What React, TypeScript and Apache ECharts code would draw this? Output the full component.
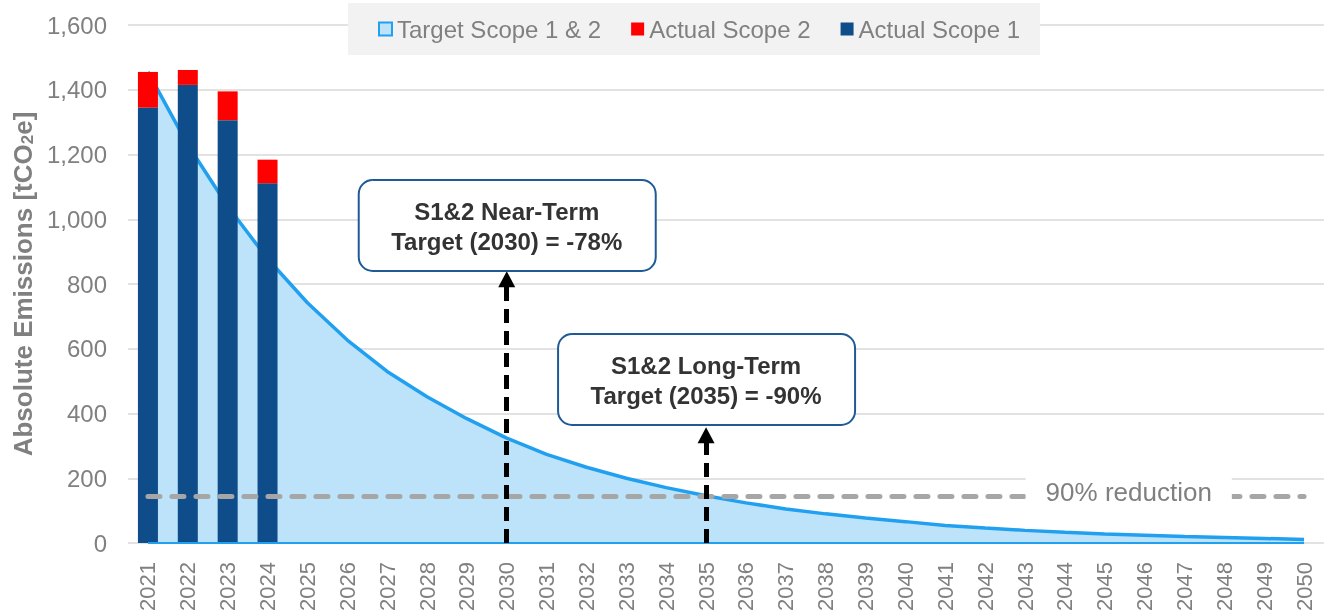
import React, { useEffect, useRef } from 'react';
import * as echarts from 'echarts';

const years = ['2021', '2022', '2023', '2024', '2025', '2026', '2027', '2028', '2029', '2030',
  '2031', '2032', '2033', '2034', '2035', '2036', '2037', '2038', '2039', '2040',
  '2041', '2042', '2043', '2044', '2045', '2046', '2047', '2048', '2049', '2050'];

const targetScope12 = [1455, 1230, 1040, 878, 742, 627, 530, 452, 384, 324,
  274, 234, 200, 171, 146, 124, 105, 90, 77, 66,
  54, 46, 39, 33, 28, 24, 20, 17, 14, 11];

const actualScope1 = [1345, 1415, 1306, 1111];
const actualScope2 = [110, 46, 89, 73];

const reductionLevel = 145.5;
const yTicks = { min: 0, max: 1600, interval: 200 };

const FONT = "'Liberation Sans', Arial, sans-serif";
const GRAY = '#808080';

export default function App() {
  const ref = useRef<HTMLDivElement>(null);
  useEffect(() => {
    const chart = echarts.init(ref.current!, null, { renderer: 'svg' });
    chart.setOption({
      animation: false,
      textStyle: { fontFamily: FONT },
      grid: { left: 128, right: 2, top: 25, bottom: 71, containLabel: false },
      legend: {
        left: 348,
        top: 3,
        backgroundColor: '#F2F2F2',
        padding: [14, 20, 14, 30],
        itemGap: 30,
        itemWidth: 13,
        itemHeight: 13,
        icon: 'rect',
        selectedMode: false,
        textStyle: { fontSize: 24, color: GRAY, fontFamily: FONT },
        data: [
          { name: 'Target Scope 1 & 2', itemStyle: { color: '#BDE3FB', borderColor: '#22A0F0', borderWidth: 2 } },
          { name: 'Actual Scope 2', itemStyle: { color: '#FF0000' } },
          { name: 'Actual Scope 1', itemStyle: { color: '#0F4C8A' } },
        ],
      },
      xAxis: {
        type: 'category',
        data: years,
        boundaryGap: true,
        axisLine: { show: false },
        axisTick: { show: false },
        axisLabel: { rotate: 90, interval: 0, fontSize: 22, color: GRAY, margin: 19, fontFamily: FONT },
      },
      yAxis: {
        type: 'value',
        min: yTicks.min,
        max: yTicks.max,
        interval: yTicks.interval,
        axisLine: { show: false },
        axisTick: { show: false },
        splitLine: { lineStyle: { color: '#D9D9D9', width: 1.5 } },
        axisLabel: {
          fontSize: 24,
          color: GRAY,
          margin: 21,
          fontFamily: FONT,
          formatter: (v: number) => v.toLocaleString('en-US'),
        },
        name: 'Absolute Emissions [tCO{s|2}e]',
        nameLocation: 'middle',
        nameRotate: 90,
        nameGap: 86,
        nameTextStyle: {
          color: GRAY,
          fontSize: 26,
          fontWeight: 'bold',
          fontFamily: FONT,
          rich: {
            s: { fontSize: 17, fontWeight: 'bold', color: GRAY, fontFamily: FONT, verticalAlign: 'bottom', lineHeight: 14 },
          },
        },
      },
      series: [
        {
          name: 'Target Scope 1 & 2',
          type: 'line',
          data: targetScope12,
          symbol: 'none',
          z: 1,
          lineStyle: { color: '#22A0F0', width: 3.5 },
          itemStyle: { color: '#BDE3FB' },
          areaStyle: { color: '#BDE3FB', opacity: 1 },
          markLine: {
            silent: true,
            symbol: 'none',
            label: { show: false },
            data: [
              [
                { coord: ['2021', 0], lineStyle: { color: '#22A0F0', width: 2, type: 'solid' } },
                { coord: ['2050', 0] },
              ],
            ],
          },
        },
        {
          name: 'Actual Scope 1',
          type: 'bar',
          stack: 'actual',
          data: actualScope1,
          barWidth: 20,
          z: 3,
          itemStyle: { color: '#0F4C8A' },
        },
        {
          name: 'Actual Scope 2',
          type: 'bar',
          stack: 'actual',
          data: actualScope2,
          barWidth: 20,
          z: 3,
          itemStyle: { color: '#FF0000' },
          markLine: {
            silent: true,
            symbol: 'none',
            label: { show: false },
            data: [
              [
                { coord: ['2021', reductionLevel], symbol: 'none', lineStyle: { color: '#A6A6A6', width: 5, type: [12, 12], cap: 'round' } },
                { coord: ['2050', reductionLevel], symbol: 'none' },
              ],
              [
                { coord: ['2030', 0], symbol: 'none', lineStyle: { color: '#000000', width: 5, type: [14, 8], cap: 'butt' } },
                { coord: ['2030', 815], symbol: 'triangle', symbolSize: [17, 16] },
              ],
              [
                { coord: ['2035', 0], symbol: 'none', lineStyle: { color: '#000000', width: 5, type: [14, 8], cap: 'butt' } },
                { coord: ['2035', 333], symbol: 'triangle', symbolSize: [17, 16] },
              ],
            ],
          },
        },
      ],
    });

    const px = (cat: string) => chart.convertToPixel({ xAxisIndex: 0 }, cat) as number;
    const x30 = px('2030');
    const x35 = px('2035');
    const x45 = px('2045');
    const boxStyle = { fill: '#FFFFFF', stroke: '#1F5A96', lineWidth: 2 };
    const textStyle = {
      fontSize: 24,
      fontWeight: 'bold',
      fontFamily: FONT,
      fill: '#333333',
      align: 'center',
      verticalAlign: 'middle',
      lineHeight: 30,
    };
    chart.setOption({
      graphic: [
        { type: 'rect', z: 100, shape: { x: x30 - 148, y: 180, width: 297, height: 91, r: 14 }, style: boxStyle },
        { type: 'text', z: 101, x: x30, y: 226, style: { ...textStyle, text: 'S1&2 Near-Term\nTarget (2030) = -78%' } },
        { type: 'rect', z: 100, shape: { x: x35 - 148, y: 334, width: 297, height: 91, r: 14 }, style: boxStyle },
        { type: 'text', z: 101, x: x35, y: 380, style: { ...textStyle, text: 'S1&2 Long-Term\nTarget (2035) = -90%' } },
        {
          type: 'text', z: 101, x: x45 + 24, y: 492,
          style: {
            text: '90% reduction', fontSize: 26, fontFamily: FONT, fill: GRAY,
            align: 'center', verticalAlign: 'middle', backgroundColor: '#FFFFFF', padding: [8, 20, 4, 20],
          },
        },
      ],
    });
    return () => chart.dispose();
  }, []);
  return <div ref={ref} style={{ position: 'fixed', left: 0, top: 0, width: 1326, height: 614 }} />;
}
